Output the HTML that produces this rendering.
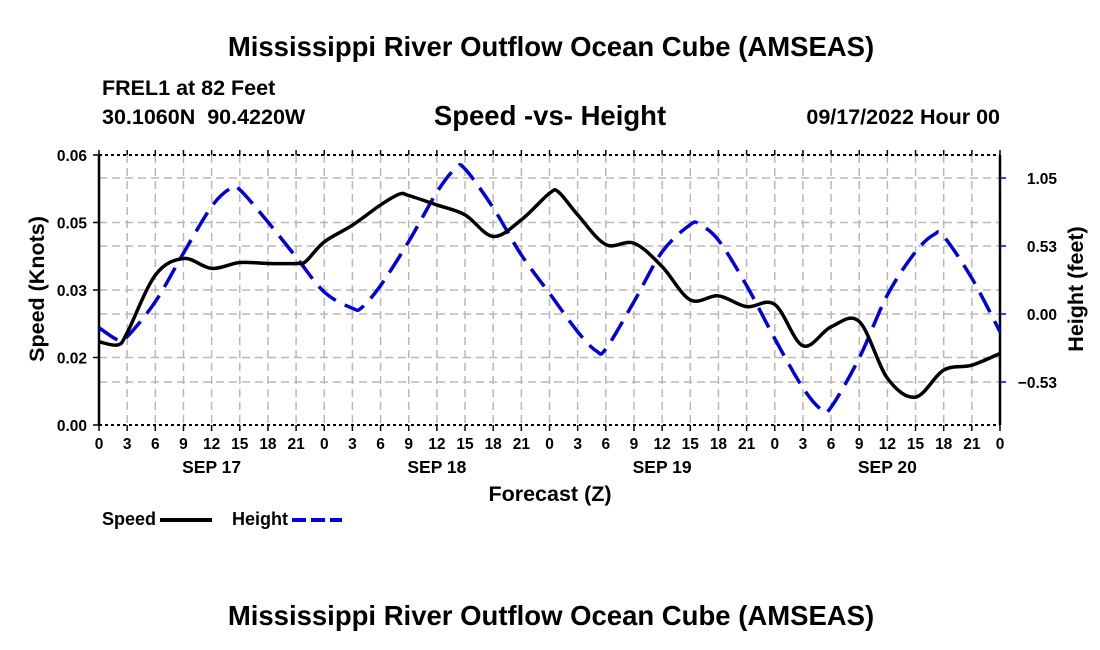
<!DOCTYPE html>
<html><head><meta charset="utf-8">
<style>
html,body{margin:0;padding:0;background:#fff;}
svg{display:block;font-family:"Liberation Sans",Arial,sans-serif;font-weight:bold;}
</style></head>
<body>
<svg id="chart" width="1100" height="650" viewBox="0 0 1100 650">
<text x="551" y="56" text-anchor="middle" font-size="27.5">Mississippi River Outflow Ocean Cube (AMSEAS)</text>
<text x="102" y="95" font-size="21.5">FREL1 at 82 Feet</text>
<text x="102" y="124" font-size="21.5">30.1060N&#160;&#160;90.4220W</text>
<text x="550" y="125" text-anchor="middle" font-size="27.5">Speed -vs- Height</text>
<text x="1000" y="124" text-anchor="end" font-size="21.5">09/17/2022 Hour 00</text>
<g id="grid"></g>
<g id="axes"></g>
<g id="series"></g>
<text transform="translate(44,289) rotate(-90)" text-anchor="middle" font-size="21.5">Speed (Knots)</text>
<text transform="translate(1083,289) rotate(-90)" text-anchor="middle" font-size="21.5">Height (feet)</text>
<text x="550" y="501" text-anchor="middle" font-size="21.5">Forecast (Z)</text>
<g>
<text x="102" y="525" font-size="18">Speed</text>
<line x1="160" y1="520" x2="212" y2="520" stroke="#000" stroke-width="4"/>
<text x="232" y="525" font-size="18">Height</text>
<line x1="292" y1="520" x2="342" y2="520" stroke="#0000dd" stroke-width="4" stroke-dasharray="14,5"/>
</g>
<text x="551" y="625" text-anchor="middle" font-size="27.5">Mississippi River Outflow Ocean Cube (AMSEAS)</text>
</svg>
<script>
const hours = [0,2,3,6,9,12,15,18,21,22,24,27,30,32,33,36,39,42,45,48,49,51,54,57,60,63,66,69,72,75,78,81,84,87,90,93,96];
const speed = [0.0185,0.0178,0.0205,0.0333,0.037,0.0348,0.0361,0.0359,0.0359,0.0363,0.0407,0.0444,0.0489,0.0513,0.051,0.0489,0.0467,0.0419,0.0456,0.0515,0.0517,0.0467,0.0401,0.0404,0.0352,0.0278,0.0287,0.0263,0.0268,0.0176,0.0218,0.023,0.0104,0.0062,0.0122,0.0133,0.0159];
const heightHours = [0,2,3,6,9,12,14,15,18,21,24,27,28,30,33,36,38,39,42,45,48,51,53,54,57,60,63,64,66,69,72,75,77,78,81,84,87,89,90,93,96];
const height = [-0.106,-0.2,-0.175,0.095,0.47,0.83,0.97,0.96,0.71,0.44,0.17,0.044,0.05,0.22,0.56,0.94,1.125,1.12,0.82,0.456,0.16,-0.137,-0.286,-0.27,0.095,0.48,0.69,0.69,0.57,0.22,-0.19,-0.57,-0.74,-0.72,-0.34,0.147,0.48,0.615,0.6,0.276,-0.137];
const speedTicks = [0,0.015,0.03,0.045,0.06];
const speedTickLabels = ["0.00","0.02","0.03","0.05","0.06"];
const heightTicks = [-0.525,0,0.525,1.05];
const heightTickLabels = ["\u22120.53","0.00","0.53","1.05"];
const dayLabels = ["SEP 17","SEP 18","SEP 19","SEP 20"];

(function(){
const X0=99,X1=1000,Y0=425,Y1=155;
const xs = h => X0 + h*(X1-X0)/96;
const ys = v => Y0 - v*(Y0-Y1)/0.06;
const yh = v => 314 - v*129.5;
const NS="http://www.w3.org/2000/svg";
function mk(tag, attrs, parent){const e=document.createElementNS(NS,tag);for(const k in attrs)e.setAttribute(k,attrs[k]);parent.appendChild(e);return e;}
const grid=document.getElementById('grid'), axes=document.getElementById('axes'), series=document.getElementById('series');
const gs={stroke:"#b8b8b8","stroke-width":1.5,"stroke-dasharray":"8,5"};
for(let h=3;h<96;h+=3){const l=mk('line',Object.assign({x1:xs(h),y1:Y1,x2:xs(h),y2:Y0},gs),grid);

}
speedTicks.forEach((v,i)=>{if(i>0&&i<speedTicks.length-1){const l=mk('line',Object.assign({x1:X0,y1:ys(v),x2:X1,y2:ys(v)},gs),grid);

}});
heightTicks.forEach(v=>{const l=mk('line',Object.assign({x1:X0,y1:yh(v),x2:X1,y2:yh(v)},gs),grid);

});
const topBorder=mk('line',{x1:X0,y1:Y1,x2:X1,y2:Y1,stroke:"#000","stroke-width":2,"stroke-dasharray":"3,3"},axes);


const bot=mk('line',{x1:X0,y1:Y0,x2:X1,y2:Y0,stroke:"#000","stroke-width":2,"stroke-dasharray":"3,3"},axes);


const la=mk('line',{x1:X0,y1:Y1,x2:X0,y2:Y0,stroke:"#000","stroke-width":2.5},axes);


const ra=mk('line',{x1:X1,y1:Y1,x2:X1,y2:Y0,stroke:"#000","stroke-width":2.5},axes);


speedTicks.forEach((v,i)=>{
 const t=mk('line',{x1:X0-6,y1:ys(v),x2:X0,y2:ys(v),stroke:"#000","stroke-width":1.5},axes);
 
 
 const tx=mk('text',{x:X0-12,y:ys(v)+6,"text-anchor":"end","font-size":15.5},axes);tx.textContent=speedTickLabels[i];
 
 
});
heightTicks.forEach((v,i)=>{
 const t=mk('line',{x1:X1,y1:yh(v),x2:X1+6,y2:yh(v),stroke:"#0000dd","stroke-width":1.5},axes);
 
 
 const tx=mk('text',{x:X1+57,y:yh(v)+6,"text-anchor":"end","font-size":15.5},axes);tx.textContent=heightTickLabels[i];
 
 
});
for(let h=0;h<=96;h+=3){
 const t=mk('line',{x1:xs(h),y1:Y0,x2:xs(h),y2:Y0+6,stroke:"#000","stroke-width":1.5},axes);
 
 
 const t2=mk('line',{x1:xs(h),y1:Y1-5,x2:xs(h),y2:Y1,stroke:"#000","stroke-width":1.5},axes);
 
 
 const tx=mk('text',{x:xs(h),y:Y0+24,"text-anchor":"middle","font-size":15.5},axes);tx.textContent=String(h%24);
 
 
}
dayLabels.forEach((d,i)=>{
 const tx=mk('text',{x:xs(i*24+12),y:Y0+48,"text-anchor":"middle","font-size":17.5},axes);tx.textContent=d;
 
 
});
function smooth(pts){let d=`M${pts[0][0]},${pts[0][1]}`;
 for(let i=0;i<pts.length-1;i++){const p0=pts[Math.max(0,i-1)],p1=pts[i],p2=pts[i+1],p3=pts[Math.min(pts.length-1,i+2)];
 d+=` C${p1[0]+(p2[0]-p0[0])/6},${p1[1]+(p2[1]-p0[1])/6} ${p2[0]-(p3[0]-p1[0])/6},${p2[1]-(p3[1]-p1[1])/6} ${p2[0]},${p2[1]}`;}
 return d;}
const hp=mk('path',{d:smooth(heightHours.map((h,i)=>[xs(h),yh(height[i])])),fill:"none",stroke:"#0000dd","stroke-width":3.5,"stroke-dasharray":"22,10"},series);


const sp=mk('path',{d:smooth(hours.map((h,i)=>[xs(h),ys(speed[i])])),fill:"none",stroke:"#000","stroke-width":3.5},series);


})();
</script>
</body></html>
